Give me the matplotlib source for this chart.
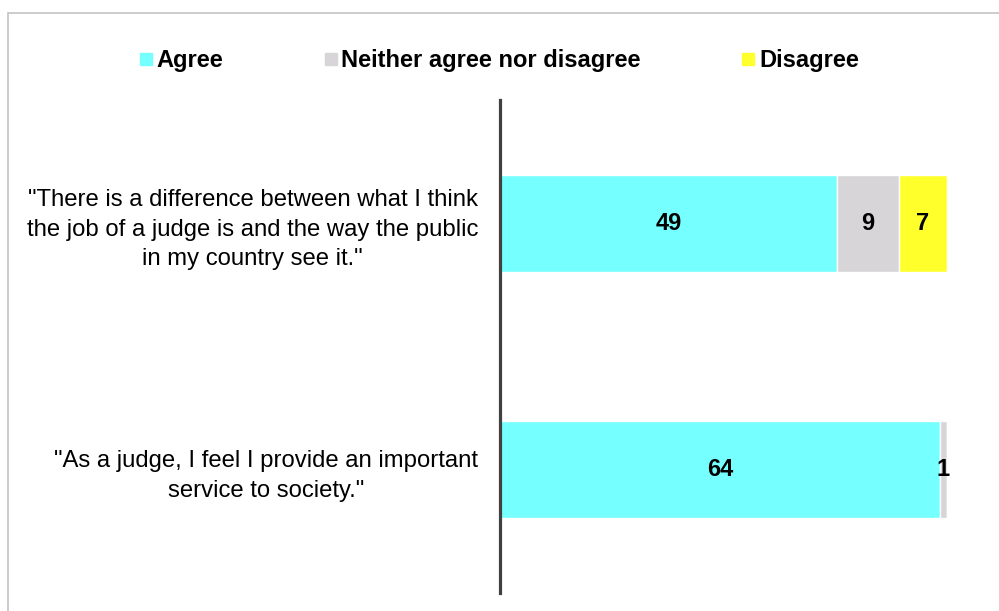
import matplotlib
matplotlib.use("Agg")
import matplotlib.pyplot as plt
from matplotlib.lines import Line2D
from matplotlib.patches import Rectangle

plt.rcParams['font.family'] = ['Liberation Sans', 'DejaVu Sans']

statements = [
    '"There is a difference between what I think\nthe job of a judge is and the way the public\nin my country see it."',
    '"As a judge, I feel I provide an important\nservice to society."',
]
series_names = ["Agree", "Neither agree nor disagree", "Disagree"]
agree = [49, 64]
neither = [9, 1]
disagree = [7, 0]
colors = ["#75FFFF", "#D7D5D7", "#FFFF2B"]

fig = plt.figure(figsize=(9.99, 6.11), dpi=100)
ax = fig.add_axes([0.501, 0.0295, 0.479, 0.8068])

y = list(range(len(statements)))
left = [0] * len(statements)
for name, vals, col in zip(series_names, [agree, neither, disagree], colors):
    bars = ax.barh(y, vals, left=left, height=0.395, color=col,
                   edgecolor="white", linewidth=1.0, label=name)
    labels = [str(v) if v > 0 else "" for v in vals]
    ax.bar_label(bars, labels=labels, label_type="center",
                 fontsize=17, fontweight="bold", color="black")
    left = [l + v for l, v in zip(left, vals)]

ax.set_xlim(0, 69.7)
ax.set_ylim(1.5, -0.5)
ax.set_yticks(y)
ax.set_yticklabels(statements, fontsize=17.2)
for lab in ax.get_yticklabels():
    lab.set_multialignment("center")
    lab.set_linespacing(1.45)
ax.tick_params(axis="y", length=0, pad=16)
ax.tick_params(axis="x", length=0, labelbottom=False)
ax.set_xticks([])
for side in ["top", "right", "bottom"]:
    ax.spines[side].set_visible(False)
ax.spines["left"].set_color("#404040")
ax.spines["left"].set_linewidth(2.3)

handles = [Line2D([], [], marker="s", linestyle="none", markersize=8.5,
                  markerfacecolor=c, markeredgecolor=c) for c in colors]
fig.legend(handles, series_names, loc="center", bbox_to_anchor=(0.5, 1 - 61 / 611),
           ncol=3, frameon=False, handlelength=0.5, handletextpad=0.2,
           columnspacing=4.3, prop={"size": 17, "weight": "bold"})

fig.patches.append(Rectangle((7.5 / 999, -0.1), 1.2, 1.1 - 12.5 / 611,
                             transform=fig.transFigure, fill=False,
                             edgecolor="#C4C4C4", linewidth=1.2, zorder=0))

fig.savefig("out.png", dpi=100, facecolor="white")
